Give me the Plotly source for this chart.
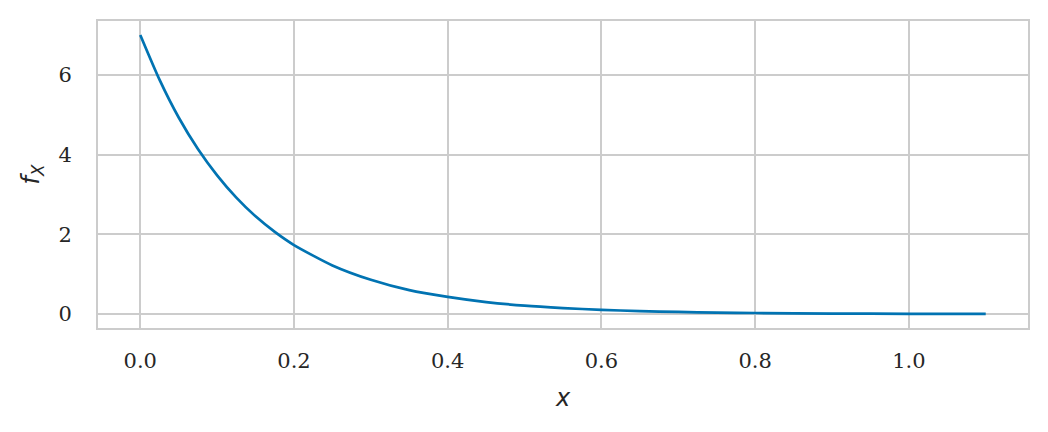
import plotly.graph_objects as go

# values
x_vals = [0.0, 0.025, 0.05, 0.075, 0.1, 0.125, 0.15, 0.175, 0.2, 0.25, 0.3, 0.35,
          0.4, 0.45, 0.5, 0.55, 0.6, 0.65, 0.7, 0.75, 0.8, 0.9, 1.0, 1.1]
f_vals = [7.00, 5.88, 4.93, 4.14, 3.48, 2.92, 2.45, 2.06, 1.73, 1.22, 0.86, 0.60,
          0.43, 0.30, 0.21, 0.15, 0.105, 0.074, 0.052, 0.037, 0.026, 0.013, 0.006, 0.003]
x_ticks = [0.0, 0.2, 0.4, 0.6, 0.8, 1.0]
x_tick_labels = ["0.0", "0.2", "0.4", "0.6", "0.8", "1.0"]
y_ticks = [0, 2, 4, 6]
y_tick_labels = ["0", "2", "4", "6"]

fig = go.Figure()
fig.add_trace(go.Scatter(x=x_vals, y=f_vals, mode="lines",
                         line=dict(color="#0173b2", width=2.7, shape="spline", smoothing=0.6),
                         showlegend=False, hoverinfo="skip"))

axis_common = dict(showgrid=True, gridcolor="#cccccc", gridwidth=1.6,
                   showline=True, linecolor="#cccccc", linewidth=2, mirror=True,
                   zeroline=False, ticks="",
                   tickfont=dict(family="DejaVu Serif", size=21, color="#262626"))

fig.update_layout(
    width=1040, height=424,
    margin=dict(l=90, r=20, t=11, b=104),
    paper_bgcolor="white", plot_bgcolor="white",
    xaxis=dict(range=[-0.055, 1.155], tickvals=x_ticks, ticktext=x_tick_labels,
               ticklabelstandoff=13,
               title=dict(text="<i>x</i>", font=dict(family="DejaVu Sans", size=24, color="#262626"),
                          standoff=17),
               **axis_common),
    yaxis=dict(range=[-0.35, 7.35], tickvals=y_ticks, ticktext=y_tick_labels,
               ticklabelstandoff=20,
               title=dict(text="<i>f</i><sub><i>X</i></sub>",
                          font=dict(family="DejaVu Sans", size=24, color="#262626"),
                          standoff=12),
               **axis_common),
)

fig.write_html("out.html")
